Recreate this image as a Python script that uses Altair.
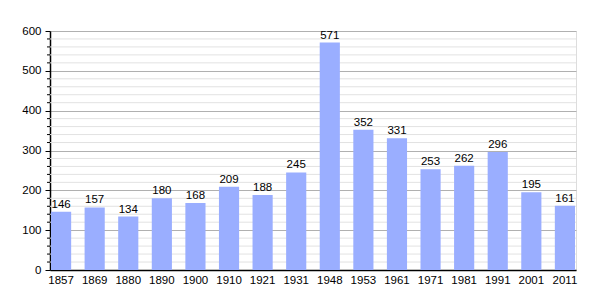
import altair as alt
import pandas as pd

years = ["1857", "1869", "1880", "1890", "1900", "1910", "1921", "1931",
         "1948", "1953", "1961", "1971", "1981", "1991", "2001", "2011"]
population = [146, 157, 134, 180, 168, 209, 188, 245,
              571, 352, 331, 253, 262, 296, 195, 161]
major_ticks = [0, 100, 200, 300, 400, 500, 600]
minor_ticks = [v for v in range(0, 601, 20) if v % 100 != 0]

df = pd.DataFrame({"year": years, "pop": population})
minor_df = pd.DataFrame({"v": minor_ticks})

FONT = "Liberation Sans"
W, H = 526, 239

y_scale = alt.Scale(domain=[0, 600], nice=False)
y_axis = alt.Axis(values=major_ticks, gridColor="#b0b0b0", grid=True,
                  tickSize=5, tickColor="#000000",
                  domainColor="#000000", domainWidth=1.5,
                  labelColor="#000000", labelFontSize=11.5,
                  labelFont=FONT, labelPadding=4, title=None)

minor_grid = alt.Chart(minor_df).mark_rule(color="#e2e2e2", strokeWidth=1).encode(
    y=alt.Y("v:Q", scale=y_scale, axis=y_axis, title=None),
    x=alt.value(0), x2=alt.value(W))
minor_tick = alt.Chart(minor_df).mark_rule(color="#000000", strokeWidth=1).encode(
    y=alt.Y("v:Q", scale=y_scale, axis=y_axis, title=None),
    x=alt.value(-3), x2=alt.value(0))

x_enc = alt.X("year:N", sort=years, title=None,
              scale=alt.Scale(paddingInner=0.4, paddingOuter=0.03),
              axis=alt.Axis(labelAngle=0, ticks=False, domainColor="#000000",
                            domainWidth=1.5, labelColor="#000000",
                            labelFontSize=11.5, labelFont=FONT, labelPadding=4,
                            grid=False))
y_enc = alt.Y("pop:Q", title=None, scale=y_scale, axis=y_axis)

bars = alt.Chart(df).mark_bar(color="#9aaeff").encode(x=x_enc, y=y_enc)
labels = alt.Chart(df).mark_text(dy=-7, fontSize=11.5, font=FONT,
                                 color="#000000").encode(
    x=x_enc, y=y_enc, text="pop:Q")

chart = alt.layer(minor_grid, minor_tick, bars, labels).properties(
    width=W, height=H,
    autosize=alt.AutoSizeParams(type="none"),
    padding={"left": 50, "top": 31, "right": 29, "bottom": 30},
).configure_view(stroke=None).configure(background="#ffffff")

chart.save("out.html", embed_options={"renderer": "svg", "actions": False})
